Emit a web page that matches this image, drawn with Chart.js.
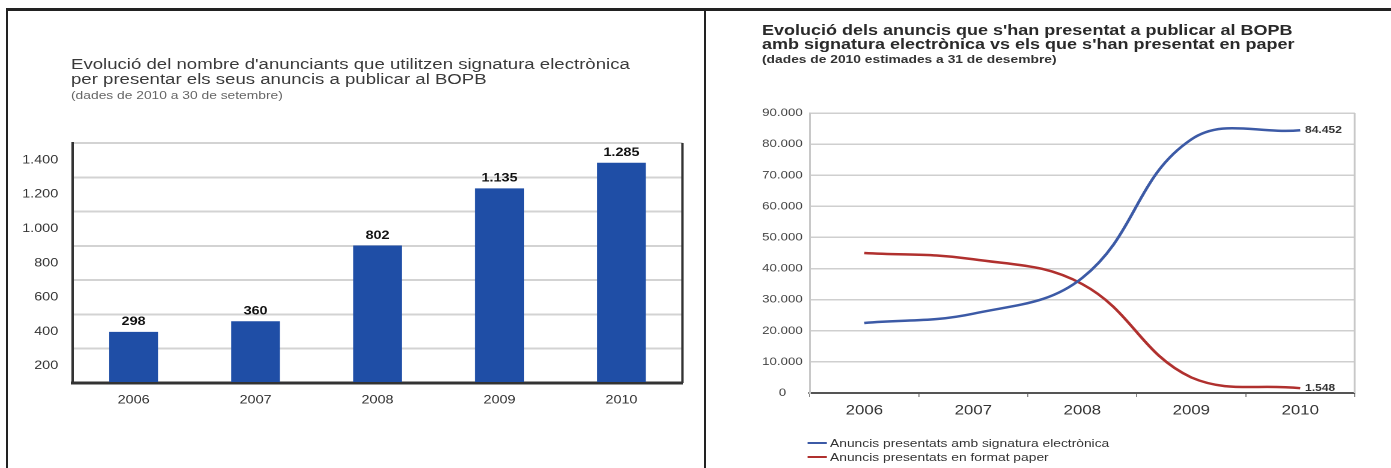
<!DOCTYPE html>
<html>
<head>
<meta charset="utf-8">
<script src="https://cdn.jsdelivr.net/npm/chart.js@4.4.1/dist/chart.umd.min.js"></script>
<style>
  html, body { margin: 0; padding: 0; background: #fff; }
  #frame { position: relative; width: 1391px; height: 468px; overflow: hidden; background: #fff; }
  .rule { position: absolute; background: #222; }
  #stage { position: absolute; left: 0; top: 0; width: 1159.17px; height: 468px;
           transform: scaleX(1.2); transform-origin: 0 0;
           font-family: "Liberation Sans", Arial, Helvetica, sans-serif; }
  .txt { position: absolute; white-space: nowrap; }
  canvas { position: absolute; }
  .leg { position: absolute; left: 672.5px; font-size: 11.5px; color: #333; line-height: 14px; white-space: nowrap; }
  .leg span.mk { display: inline-block; width: 16.7px; height: 2px; vertical-align: middle; margin-right: 2.5px; position: relative; top: -1px; }
</style>
</head>
<body>
<div id="frame">
  <div class="rule" style="left:6px;top:8px;width:1385px;height:3px"></div>
  <div class="rule" style="left:6px;top:8px;width:2px;height:460px"></div>
  <div class="rule" style="left:704px;top:8px;width:2px;height:460px"></div>
  <div id="stage">
    <div class="txt" style="left:59.2px;top:56px;font-size:15.5px;line-height:15px;color:#3a3a3a">Evolució del nombre d'anunciants que utilitzen signatura electrònica<br>per presentar els seus anuncis a publicar al BOPB</div>
    <div class="txt" style="left:59.2px;top:88px;font-size:11.5px;line-height:14px;color:#666">(dades de 2010 a 30 de setembre)</div>
    <div class="txt" style="left:635px;top:23px;font-size:15px;line-height:14px;font-weight:bold;color:#2a2a2a">Evolució dels anuncis que s'han presentat a publicar al BOPB<br>amb signatura electrònica vs els que s'han presentat en paper</div>
    <div class="txt" style="left:635px;top:52px;font-size:11.5px;line-height:14px;font-weight:bold;color:#333">(dades de 2010 estimades a 31 de desembre)</div>
    <canvas id="cL" style="left:7.5px;top:120px"></canvas>
    <canvas id="cR" style="left:588.3px;top:95px"></canvas>
    <div id="legend"></div>
  </div>
</div>
<script>
// ---- data ----
const categories = ['2006', '2007', '2008', '2009', '2010'];
const anunciants = [298, 360, 802, 1135, 1285];
const ambSignatura = [22500, 25500, 37000, 81500, 84452];
const formatPaper = [45000, 43000, 35000, 5000, 1548];
const barAxis = { min: 0, max: 1400, step: 200 };
const lineAxis = { min: 0, max: 90000, step: 10000 };
const seriesLabels = ['Anuncis presentats amb signatura electrònica', 'Anuncis presentats en format paper'];

const FONT = '"Liberation Sans", Arial, Helvetica, sans-serif';
const fmt = v => String(v).replace(/\B(?=(\d{3})+(?!\d))/g, '.');

const framePlugin = {
  id: 'frameRight',
  afterDraw(chart, args, opts) {
    const { ctx, chartArea: a } = chart;
    ctx.save();
    ctx.strokeStyle = opts.color;
    ctx.lineWidth = opts.width;
    ctx.beginPath();
    ctx.moveTo(a.right, a.top);
    ctx.lineTo(a.right, a.bottom);
    ctx.stroke();
    ctx.restore();
  }
};

const barLabels = {
  id: 'barLabels',
  afterDatasetsDraw(chart) {
    const { ctx } = chart;
    const meta = chart.getDatasetMeta(0);
    const ds = chart.data.datasets[0];
    ctx.save();
    ctx.font = 'bold 12px ' + FONT;
    ctx.fillStyle = '#111';
    ctx.textAlign = 'center';
    ctx.textBaseline = 'bottom';
    meta.data.forEach((bar, i) => ctx.fillText(fmt(ds.data[i]), bar.x, bar.y - 4));
    ctx.restore();
  }
};

const endLabels = {
  id: 'endLabels',
  afterDatasetsDraw(chart) {
    const { ctx } = chart;
    ctx.save();
    ctx.font = 'bold 10px ' + FONT;
    ctx.fillStyle = '#333';
    ctx.textAlign = 'left';
    ctx.textBaseline = 'middle';
    chart.data.datasets.forEach((ds, di) => {
      const meta = chart.getDatasetMeta(di);
      const last = meta.data.length - 1;
      const pt = meta.data[last];
      ctx.fillText(fmt(ds.data[last]), pt.x + 4, pt.y);
    });
    ctx.restore();
  }
};

function sizeCanvas(id, w, h) {
  const c = document.getElementById(id);
  c.width = w; c.height = h;
  c.style.width = w + 'px'; c.style.height = h + 'px';
  return c;
}

// ---- left: bar chart ----
new Chart(sizeCanvas('cL', 579, 300), {
  type: 'bar',
  data: {
    labels: categories,
    datasets: [{ data: anunciants, backgroundColor: '#1f4ea6', borderWidth: 0,
                 categoryPercentage: 1, barPercentage: 0.4 }]
  },
  options: {
    responsive: false, animation: false, devicePixelRatio: 2,
    layout: { padding: { top: 23, right: 18.3, left: 0, bottom: 0 } },
    plugins: { legend: { display: false }, tooltip: { enabled: false },
               frameRight: { color: '#333', width: 2 } },
    scales: {
      x: {
        z: 1,
        grid: { display: false },
        border: { display: true, color: '#333', width: 3 },
        ticks: { color: '#333', font: { family: FONT, size: 12 }, padding: 2 },
        afterFit: s => { s.height = 37; }
      },
      y: {
        min: barAxis.min, max: barAxis.max,
        grid: { color: '#d3d3d3', lineWidth: 2, drawTicks: false },
        border: { display: true, color: '#333', width: 2 },
        ticks: { stepSize: barAxis.step, color: '#333', font: { family: FONT, size: 12 }, padding: 12,
                 labelOffset: 17.1, callback: v => v === 0 ? '' : fmt(v) },
        afterFit: s => { s.width = 52.5; }
      }
    }
  },
  plugins: [framePlugin, barLabels]
});

// ---- right: line chart ----
const lineColors = ['#3c5aa6', '#b0302e'];
new Chart(sizeCanvas('cR', 570.8, 335), {
  type: 'line',
  data: {
    labels: categories,
    datasets: [
      { label: seriesLabels[0], data: ambSignatura, borderColor: lineColors[0], borderWidth: 2.5,
        pointRadius: 0, tension: 0.4, fill: false },
      { label: seriesLabels[1], data: formatPaper, borderColor: lineColors[1], borderWidth: 2.5,
        pointRadius: 0, tension: 0.4, fill: false }
    ]
  },
  options: {
    responsive: false, animation: false, devicePixelRatio: 2,
    layout: { padding: { top: 18, right: 30, left: 0, bottom: 0 } },
    plugins: { legend: { display: false }, tooltip: { enabled: false },
               frameRight: { color: '#c8c8c8', width: 1.5 } },
    scales: {
      x: {
        offset: true,
        grid: { display: true, drawOnChartArea: false, drawTicks: true, tickLength: 4, offset: true, color: '#888' },
        border: { display: true, color: '#555', width: 2 },
        ticks: { color: '#333', font: { family: FONT, size: 14 }, padding: 5 },
        afterFit: s => { s.height = 37; }
      },
      y: {
        min: lineAxis.min, max: lineAxis.max,
        grid: { color: '#cfcfcf', lineWidth: 1.5, drawTicks: false },
        border: { display: true, color: '#c8c8c8', width: 1.5 },
        ticks: { stepSize: lineAxis.step, color: '#444', font: { family: FONT, size: 11 }, padding: 6,
                 crossAlign: 'center', callback: v => fmt(v) },
        afterFit: s => { s.width = 86.7; }
      }
    }
  },
  plugins: [framePlugin, endLabels]
});

// ---- legend (HTML, from dataset labels/colors) ----
const legend = document.getElementById('legend');
seriesLabels.forEach((lab, i) => {
  const row = document.createElement('div');
  row.className = 'leg';
  row.style.top = (436 + i * 14) + 'px';
  row.innerHTML = '<span class="mk" style="background:' + lineColors[i] + '"></span>' + lab;
  legend.appendChild(row);
});
</script>
</body>
</html>
